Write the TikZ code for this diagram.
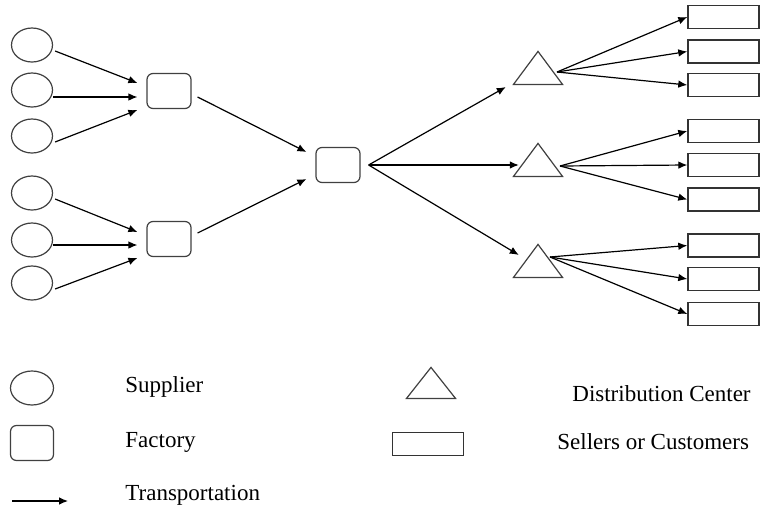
\documentclass[tikz,border=0pt]{standalone}
\usepackage{fontspec}
\setmainfont{Liberation Serif}
\usetikzlibrary{arrows.meta,shapes.geometric,positioning}

\tikzset{
  supplier/.style={draw=black!75, line width=0.6pt, ellipse, inner sep=0pt,
    minimum width=20.5pt, minimum height=17pt},
  factory/.style={draw=black!75, line width=0.6pt, rectangle, rounded corners=3pt,
    inner sep=0pt, minimum width=22pt, minimum height=17.5pt},
  dc/.style={draw=black!75, line width=0.6pt, isosceles triangle,
    isosceles triangle stretches, shape border rotate=90, inner sep=0pt,
    minimum width=24.5pt, minimum height=16.5pt, anchor=lower side},
  seller/.style={draw=black!80, line width=0.7pt, rectangle, inner sep=0pt,
    minimum width=35.5pt, minimum height=11.5pt},
  flow/.style={-{Latex[length=4.5pt,width=3.8pt]}, line width=0.6pt},
  legend/.style={anchor=west, inner sep=0pt, font=\fontsize{11.5}{13}\selectfont}
}

\begin{document}
\begin{tikzpicture}[x=0.5pt, y=-0.5pt]
    \useasboundingbox (0,0) rectangle (760,509);
    % suppliers
    \node[supplier] (s1) at (32,45)  {};
    \node[supplier] (s2) at (32,90)  {};
    \node[supplier] (s3) at (32,136) {};
    \node[supplier] (s4) at (32,193) {};
    \node[supplier] (s5) at (32,240) {};
    \node[supplier] (s6) at (32,283) {};
    % factories
    \node[factory] (f1) at (169,91)  {};
    \node[factory] (f2) at (169,239) {};
    \node[factory] (hub) at (338,165) {};
    % distribution centers
    \node[dc] (d1) at (538,85)  {};
    \node[dc] (d2) at (538,177) {};
    \node[dc] (d3) at (538,278) {};
    % sellers or customers
    \foreach \y [count=\i] in {17,51.5,85,131,165,199.5,245.5,279,314}
        \node[seller] (c\i) at (723.5,\y) {};

    % transportation
    \draw[flow] ([shift={(2,6)}]s1.east) -- ([shift={(-9,-8)}]f1.west);
    \draw[flow] ([shift={(0,7)}]s2.east) -- ([shift={(-9,6)}]f1.west);
    \draw[flow] ([shift={(2,6)}]s3.east) -- ([shift={(-9,19)}]f1.west);
    \draw[flow] ([shift={(2,6)}]s4.east) -- ([shift={(-9,-7)}]f2.west);
    \draw[flow] ([shift={(0,5)}]s5.east) -- ([shift={(-9,6)}]f2.west);
    \draw[flow] ([shift={(2,6)}]s6.east) -- ([shift={(-9,19)}]f2.west);
    \draw[flow] ([shift={(6,6)}]f1.east) -- ([shift={(-9,-13)}]hub.west);
    \draw[flow] ([shift={(6,-6)}]f2.east) -- ([shift={(-9,14)}]hub.west);
    \draw[flow] ([shift={(8,0)}]hub.east) -- ([shift={(-6.5,2)}]d1.left corner);
    \draw[flow] ([shift={(8,0)}]hub.east) -- ([shift={(6.5,-12)}]d2.left corner);
    \draw[flow] ([shift={(8,0)}]hub.east) -- ([shift={(6.5,-23)}]d3.left corner);
    \foreach \i in {1,2,3}
        \draw[flow] (557,72) coordinate (o1) (o1) -- (c\i.west);
    \foreach \i in {4,5,6}
        \draw[flow] (560,166) coordinate (o2) (o2) -- (c\i.west);
    \foreach \i in {7,8,9}
        \draw[flow] (550,257) coordinate (o3) (o3) -- (c\i.west);

    % legend
    \node[supplier, minimum width=21.5pt] (lsup) at (32,388) {};
    \node[factory, minimum width=21.5pt] (lfac) at (32,443) {};
    \coordinate (la0) at (12,501);
    \coordinate (la1) at (68,501);
    \draw[flow] (la0) -- (la1);
    \node[dc, minimum height=15.5pt] (ldc) at (431,399) {};
    \node[seller] (lsel) at (428,444) {};
    \node[legend] (tsup) at (125,387) {Supplier};
    \node[legend] (tfac) at (125,442) {Factory};
    \node[legend] (ttra) at (125,495) {Transportation};
    \node[legend] (tdc)  at (572,394) {Distribution Center};
    \node[legend] (tsel) at (557,442) {Sellers or Customers};
\end{tikzpicture}
\end{document}
